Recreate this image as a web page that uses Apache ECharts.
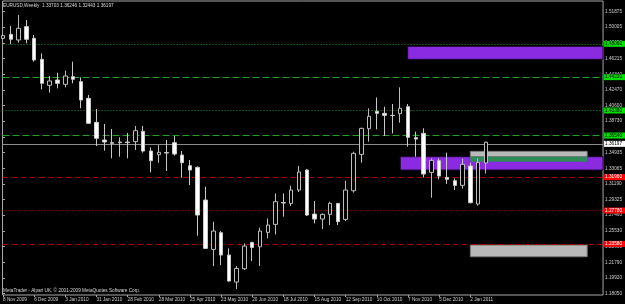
<!DOCTYPE html>
<html><head><meta charset="utf-8">
<script src="https://cdn.jsdelivr.net/npm/echarts@6/dist/echarts.min.js"></script>
<style>html,body{margin:0;padding:0;background:#000;}#c{width:625px;height:304px;}</style>
</head><body><div id="c"></div>
<script>
// ---- data ----
const dateLabels = ['8 Nov 2009','6 Dec 2009','3 Jan 2010','31 Jan 2010','28 Feb 2010','28 Mar 2010','25 Apr 2010','23 May 2010','20 Jun 2010','18 Jul 2010','15 Aug 2010','12 Sep 2010','10 Oct 2010','7 Nov 2010','5 Dec 2010','2 Jan 2011'];
const dateTickIndex = [0,4,8,12,16,20,24,28,32,36,40,44,48,52,56,60];
const priceTicks = [1.18050,1.19920,1.21790,1.23660,1.25530,1.27460,1.29325,1.31190,1.33065,1.34935,1.36800,1.38730,1.40600,1.42470,1.44340,1.46215,1.48080,1.50005,1.51875];

const opens  = [1.4866,1.4914,1.4846,1.5006,1.4866,1.4614,1.4302,1.4366,1.4314,1.4406,1.4346,1.4146,1.3858,1.3646,1.3614,1.3622,1.3622,1.3626,1.3750,1.3514,1.3470,1.3496,1.3614,1.3466,1.3338,1.3318,1.2926,1.2334,1.2534,1.2266,1.1942,1.2102,1.2418,1.2366,1.2538,1.2634,1.2896,1.2886,1.3046,1.3286,1.2758,1.2698,1.2754,1.2886,1.2694,1.3038,1.3474,1.3782,1.3990,1.3966,1.3942,1.3962,1.4046,1.3674,1.3726,1.3258,1.3398,1.3198,1.3158,1.3102,1.3334,1.2878,1.33703];
const closes = [1.4898,1.4854,1.4986,1.4854,1.4606,1.4326,1.4354,1.4326,1.4414,1.4374,1.4126,1.3846,1.3666,1.3622,1.3606,1.3615,1.3615,1.3758,1.3514,1.3398,1.3498,1.3490,1.3478,1.3374,1.3286,1.2746,1.2346,1.2554,1.2266,1.1954,1.2106,1.2374,1.2358,1.2554,1.2626,1.2906,1.2890,1.3046,1.3262,1.2746,1.2698,1.2754,1.2886,1.2666,1.3046,1.3486,1.3786,1.3930,1.3966,1.3942,1.3939,1.4026,1.3678,1.3658,1.3238,1.3402,1.3214,1.3174,1.3102,1.3354,1.2894,1.3378,1.36197];
const lows   = [1.4846,1.4794,1.4814,1.4806,1.4586,1.4254,1.4214,1.4266,1.4278,1.4326,1.4026,1.3838,1.3574,1.3518,1.3426,1.3446,1.3426,1.3526,1.3494,1.3258,1.3374,1.3274,1.3458,1.3194,1.3106,1.2498,1.2344,1.2134,1.2146,1.1946,1.1858,1.2086,1.2194,1.2134,1.2466,1.2514,1.2726,1.2854,1.3022,1.2734,1.2646,1.2578,1.2626,1.2626,1.2674,1.3014,1.3374,1.3626,1.3774,1.3694,1.3726,1.3854,1.3566,1.3446,1.3198,1.2954,1.3174,1.3118,1.3046,1.3062,1.2886,1.2858,1.32443];
const highs  = [1.4918,1.5014,1.5146,1.5086,1.4906,1.4686,1.4414,1.4454,1.4478,1.4586,1.4398,1.4186,1.4018,1.3838,1.3778,1.3678,1.3730,1.3814,1.3814,1.3558,1.3586,1.3646,1.3694,1.3514,1.3406,1.3330,1.3086,1.2666,1.2554,1.2346,1.2134,1.2406,1.2426,1.2594,1.2706,1.3006,1.3006,1.3098,1.3334,1.3298,1.2914,1.2766,1.2906,1.2890,1.3158,1.3506,1.3794,1.4026,1.4156,1.4046,1.4078,1.4278,1.4078,1.3746,1.3786,1.3426,1.3426,1.3494,1.3186,1.3422,1.3374,1.3426,1.36246];

const levelPrices = [1.48060,1.44220,1.40380,1.36540,1.31960,1.27780,1.23580];
const levelKinds  = ['greenDot','greenDash','greenDot','greenDash','redDash','redDot','redDash'];

const zoneStart  = [51.95,51,60,60,60];
const zoneEnd    = [null,null,75,75,75];
const zoneTop    = [1.4770,1.3446,1.3510,1.3446,1.2386];
const zoneBottom = [1.4614,1.3286,1.3446,1.3386,1.2246];
const zoneKinds  = ['purple','purple','gray','green','gray'];

const headerText = 'EURUSD,Weekly  1.33703 1.36246 1.32443 1.36197';
const footerText = 'MetaTrader - Alpari UK, \u00a9 2001-2009 MetaQuotes Software Corp.';

// ---- styles ----
const FONT = 'Liberation Sans';
const FS = 4.7;
const X_MIN = -0.06, X_MAX = 77.04;
const levelStyle = {
  greenDot:  {color:'#22a022', type:[1,2], bg:'#00e000', fg:'#000'},
  greenDash: {color:'#22a022', type:[7,3], bg:'#00e000', fg:'#000'},
  redDash:   {color:'#a00000', type:[6,3], bg:'#ff0000', fg:'#fff'},
  redDot:    {color:'#d00000', type:[1,2], bg:'#ff0000', fg:'#fff'}
};
const zoneStyle = {
  purple: {color:'#8a2be2', borderColor:'#1a0a2a', borderWidth:1},
  gray:   {color:'#b9b9b9', borderColor:'#7a7a7a', borderWidth:1},
  green:  {color:'#2e8b57', borderColor:'#2e8b57', borderWidth:0}
};

const candleData = opens.map((o,i)=>[i,o,closes[i],lows[i],highs[i]]);

const markLineData = levelPrices.map((p,i)=>{
  const s = levelStyle[levelKinds[i]];
  return {yAxis:p, lineStyle:{color:s.color,type:s.type,width:1,opacity:1},
    label:{show:true,position:'end',distance:1,formatter:p.toFixed(5),color:s.fg,backgroundColor:s.bg,
      fontSize:FS,fontFamily:FONT,padding:[1,3,0,1]}};
});
const lastClose = closes[closes.length-1];
markLineData.push({yAxis:lastClose, lineStyle:{color:'#8c8c8c',type:'solid',width:1,opacity:1},
  label:{show:true,position:'end',distance:1,formatter:lastClose.toFixed(5),color:'#000',backgroundColor:'#ffffff',
    fontSize:FS,fontFamily:FONT,padding:[1,3,0,1]}});

const markAreaData = zoneStart.map((x0,i)=>{
  const s = zoneStyle[zoneKinds[i]];
  return [{coord:[x0, zoneTop[i]], itemStyle:{color:s.color,borderColor:s.borderColor,borderWidth:s.borderWidth,opacity:1}},
          {coord:[zoneEnd[i]===null?X_MAX:zoneEnd[i], zoneBottom[i]]}];
});

const chart = echarts.init(document.getElementById('c'), null, {renderer:'canvas'});
chart.setOption({
  animation:false,
  backgroundColor:'#000000',
  grid:{left:1,top:1,right:18,bottom:9,show:true,borderColor:'#a8a8a8',borderWidth:1,backgroundColor:'#000000'},
  xAxis:{type:'value',min:X_MIN,max:X_MAX,
    axisLine:{show:false},splitLine:{show:false},
    axisTick:{show:true,customValues:dateTickIndex,length:2,lineStyle:{color:'#a8a8a8'}},
    axisLabel:{show:true,customValues:dateTickIndex,margin:2.5,align:'left',color:'#cfcfcf',fontSize:FS,fontFamily:FONT,
      formatter:(v)=>dateLabels[dateTickIndex.indexOf(Math.round(v))]||''}},
  yAxis:{type:'value',position:'right',min:1.17870,max:1.53135,scale:true,
    axisLine:{show:false},splitLine:{show:false},
    axisTick:{show:true,customValues:priceTicks,length:2,lineStyle:{color:'#a8a8a8'}},
    axisLabel:{show:true,customValues:priceTicks,margin:2,color:'#cfcfcf',fontSize:FS,fontFamily:FONT,
      formatter:(v)=>v.toFixed(5)}},
  graphic:[
    {type:'text',left:3,top:3,z:10,style:{text:headerText,fill:'#d8d8d8',fontSize:FS,fontFamily:FONT}},
    {type:'text',left:3,top:288,z:10,style:{text:footerText,fill:'#d8d8d8',fontSize:FS,fontFamily:FONT}}
  ],
  series:[{
    type:'candlestick',
    z:2,
    data:candleData,
    encode:{x:0,y:[1,2,3,4]},
    barWidth:4,
    itemStyle:{color:'#000000',color0:'#ffffff',borderColor:'#bdbdbd',borderColor0:'#c8c8c8',borderWidth:1},
    markArea:{silent:true,z:1,data:markAreaData},
    markLine:{silent:true,z:1.5,symbol:['none','none'],data:markLineData}
  }]
});
</script></body></html>
